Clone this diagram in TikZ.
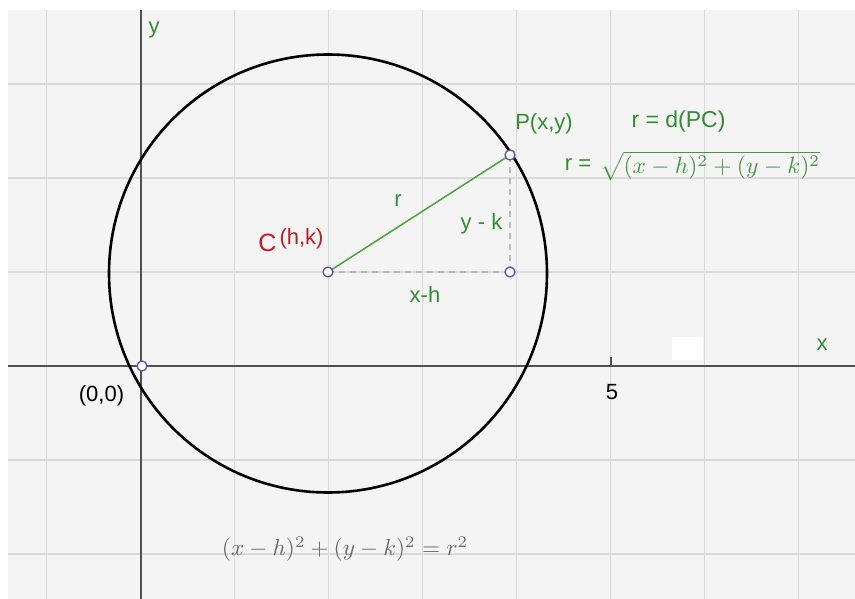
\documentclass[tikz,border=0pt]{standalone}
\usepackage{fontspec}
\setmainfont{Liberation Sans}
\usepackage{graphicx}
\definecolor{bgc}{RGB}{244,244,244}
\definecolor{gridc}{RGB}{218,218,218}
\definecolor{axisc}{RGB}{80,80,80}
\definecolor{lblgreen}{RGB}{50,140,50}
\definecolor{frmgreen}{RGB}{70,150,70}
\definecolor{lblred}{RGB}{190,30,35}
\definecolor{ptc}{RGB}{85,85,170}
\definecolor{dashc}{RGB}{185,185,185}
\definecolor{radc}{RGB}{80,160,60}
\definecolor{frmgray}{RGB}{105,105,105}
\tikzset{
  lbl/.style={inner sep=0pt, font=\fontsize{22bp}{26bp}\selectfont},
  glbl/.style={lbl, text=lblgreen},
  pt/.style={circle, draw=ptc, fill=white, line width=1.3bp, minimum size=10bp, inner sep=0pt},
  gridline/.style={gridc, line width=1.6bp},
  axisline/.style={axisc, line width=2bp},
  helper/.style={dashc, line width=1.6bp, dash pattern=on 6bp off 5bp},
}
\begin{document}
\begin{tikzpicture}[x=1bp,y=-1bp]
\useasboundingbox (0,0) rectangle (855,599);
\fill[white] (0,0) rectangle (855,599);
\fill[bgc] (8,10) rectangle (855,599);
% grid
\foreach \gx in {46.5,234.5,328.5,422.5,516.5,610.5,704.5,798.5}
  \draw[gridline] (\gx,10) -- (\gx,599);
\foreach \gy in {84,178,272,460,554}
  \draw[gridline] (8,\gy) -- (855,\gy);
% axes
\draw[axisline] (140.5,10) -- (140.5,599);
\draw[axisline] (8,366) -- (855,366);
\draw[axisc, line width=1.6bp] (611,357) -- (611,366);
% white patch
\fill[white] (672,337) rectangle (703,360);
% circle
\draw[black, line width=2.6bp] (328,273.5) circle[radius=219];
% points
\coordinate (Cc) at (328,272);
\coordinate (Pc) at (510,155);
\coordinate (Fc) at (510,272);
\draw[helper] (Cc) -- (Fc);
\draw[helper] (Fc) -- (Pc);
\draw[radc, line width=1.5bp] (Cc) -- (Pc);
\node[pt] (C) at (Cc) {};
\node[pt] (P) at (Pc) {};
\node[pt] (F) at (Fc) {};
\node[pt] (O) at (142,366) {};
% labels
\node[glbl] (ylab) at (154,30) {y};
\node[glbl] (xlab) at (822,345) {x};
\node[lbl] (five) at (612,392) {5};
\node[lbl] (orig) at (101.5,396) {(0,0)};
\node[lbl, text=lblred, font=\fontsize{25bp}{28bp}\selectfont] (Clab) at (267.5,243) {C};
\node[lbl, text=lblred] (hk) at (301.5,239) {(h,k)};
\node[glbl] (rlab) at (398,201) {r};
\node[glbl] (yk) at (481.5,224) {y - k};
\node[glbl] (xh) at (425,295) {x-h};
\node[glbl] (Plab) at (544,124) {P(x,y)};
\node[glbl, font=\fontsize{23bp}{26bp}\selectfont] (rd) at (678.5,122) {r = d(PC)};
\node[glbl] (req) at (578,165) {r =};
\node[inner sep=0pt, text=frmgreen] (sq) at (710,166) {\resizebox{220bp}{!}{$\sqrt{(x-h)^2+(y-k)^2}$}};
\node[inner sep=0pt, text=frmgray] (eq) at (345,549) {\resizebox{246bp}{!}{$(x-h)^2+(y-k)^2=r^2$}};
\end{tikzpicture}
\end{document}
